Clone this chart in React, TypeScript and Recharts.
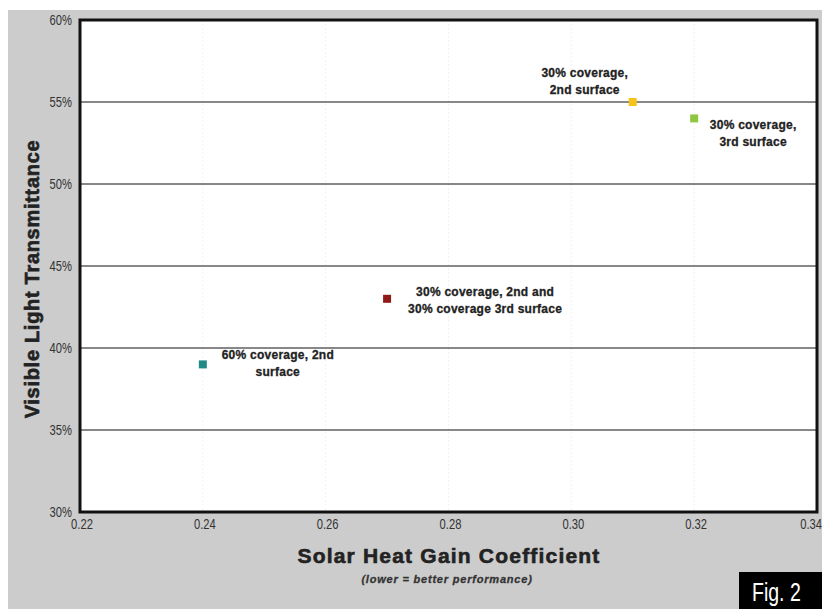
import { ScatterChart, Scatter, XAxis, YAxis, ZAxis, CartesianGrid, ReferenceArea, LabelList } from 'recharts';

// SHGC vs VLT for each frit option
const shgc = [0.24, 0.27, 0.31, 0.32];
const vlt = [39, 43, 55, 54];
const names = [
  ['60% coverage, 2nd', 'surface'],
  ['30% coverage, 2nd and', '30% coverage 3rd surface'],
  ['30% coverage,', '2nd surface'],
  ['30% coverage,', '3rd surface'],
];
const colors = ['#1f8b88', '#8e1a17', '#f7c21a', '#8dc641'];
const xTicks = [0.22, 0.24, 0.26, 0.28, 0.3, 0.32, 0.34];
const yTicks = [30, 35, 40, 45, 50, 55, 60];

// label offsets from each marker (px), centre of text block
const labelPos = [
  { dx: 75, dy: -1 },
  { dx: 98, dy: 2 },
  { dx: -48, dy: -21 },
  { dx: 59, dy: 15 },
];

const bold = "'Liberation Sans', Arial, sans-serif";

const makeLabel = (i: number) => (props: any) => {
  const { x, y, width, height } = props;
  const cx = x + width / 2 + labelPos[i].dx;
  const cy = y + height / 2 + labelPos[i].dy;
  return (
    <text x={cx} textAnchor="middle" fontFamily={bold} fontWeight="bold" fontSize={12} letterSpacing={0.25} fill="#222" stroke="#222" strokeWidth={0.3}>
      <tspan x={cx} y={cy - 8.5} dominantBaseline="central">{names[i][0]}</tspan>
      <tspan x={cx} y={cy + 8.5} dominantBaseline="central">{names[i][1]}</tspan>
    </text>
  );
};

// narrow-looking tick text; last one pulled in so it stays on the page
const XTick = (props: any) => {
  const { x, y, payload, index } = props;
  const last = index === xTicks.length - 1;
  const tx = last ? x + 5 : x + 2;
  return (
    <text transform={`translate(${tx},${y + 8}) scale(0.8,1)`} textAnchor={last ? 'end' : 'middle'} fontFamily={bold} fontSize={14} fill="#333">
      {Number(payload.value).toFixed(2)}
    </text>
  );
};
const YTick = (props: any) => {
  const { x, y, payload } = props;
  return (
    <text transform={`translate(${x},${y + 5}) scale(0.8,1)`} textAnchor="end" fontFamily={bold} fontSize={14} fill="#333">
      {`${payload.value}%`}
    </text>
  );
};

export default function App() {
  return (
    <div style={{ position: 'fixed', left: 8, top: 10, width: 814, height: 599, background: '#cccccc', overflow: 'hidden' }}>
      <ScatterChart width={814} height={599} margin={{ top: 10, right: 5, bottom: 67, left: 12 }}>
        <CartesianGrid vertical={false} horizontal={false} fill="#ffffff" />
        <CartesianGrid horizontal={false} stroke="#f2f2f2" strokeDasharray="2 2" />
        <CartesianGrid vertical={false} stroke="#111" strokeWidth={1} />
        <XAxis
          type="number"
          dataKey="x"
          domain={[0.22, 0.34]}
          ticks={xTicks}
          tick={<XTick />}
          tickLine={false}
          tickSize={0}
          tickMargin={9}
          axisLine={false}
          height={30}
          interval={0}
        />
        <YAxis
          type="number"
          dataKey="y"
          domain={[30, 60]}
          ticks={yTicks}
          tick={<YTick />}
          tickLine={false}
          tickSize={0}
          tickMargin={8}
          axisLine={false}
          width={60}
          interval={0}
        />
        <ZAxis range={[100, 100]} />
        <ReferenceArea x1={0.22} x2={0.34} y1={30} y2={60} fill="none" fillOpacity={0} stroke="#111" strokeWidth={3} />
        {shgc.map((s, i) => (
          <Scatter
            key={i}
            data={[{ x: s, y: vlt[i] }]}
            fill={colors[i]}
            shape="square"
            isAnimationActive={false}
          >
            <LabelList dataKey="y" content={makeLabel(i)} />
          </Scatter>
        ))}
      </ScatterChart>
      <div style={{ position: 'absolute', left: 0, width: 882, top: 534, textAlign: 'center', fontFamily: bold, fontWeight: 'bold', fontSize: 21, letterSpacing: 1.2, WebkitTextStroke: '0.6px #222', color: '#222' }}>
        Solar Heat Gain Coefficient
      </div>
      <div style={{ position: 'absolute', left: 0, width: 878, top: 563, textAlign: 'center', fontFamily: bold, fontWeight: 'bold', fontStyle: 'italic', fontSize: 11, letterSpacing: 0.8, WebkitTextStroke: '0.3px #333', color: '#333' }}>
        (lower = better performance)
      </div>
      <div style={{ position: 'absolute', left: 24 - 150, top: 269 - 12, width: 300, height: 24, lineHeight: '24px', textAlign: 'center', transform: 'rotate(-90deg)', fontFamily: bold, fontWeight: 'bold', fontSize: 20, letterSpacing: 0.7, WebkitTextStroke: '0.6px #222', color: '#222' }}>
        Visible Light Transmittance
      </div>
      <div style={{ position: 'absolute', left: 731, top: 562, width: 90, height: 40, background: '#000', overflow: 'hidden' }}>
        <div style={{ color: '#fff', fontFamily: bold, fontSize: 25, lineHeight: '40px', marginLeft: 13, transform: 'scaleX(0.78)', transformOrigin: 'left center', whiteSpace: 'nowrap' }}>
          Fig. 2
        </div>
      </div>
    </div>
  );
}
